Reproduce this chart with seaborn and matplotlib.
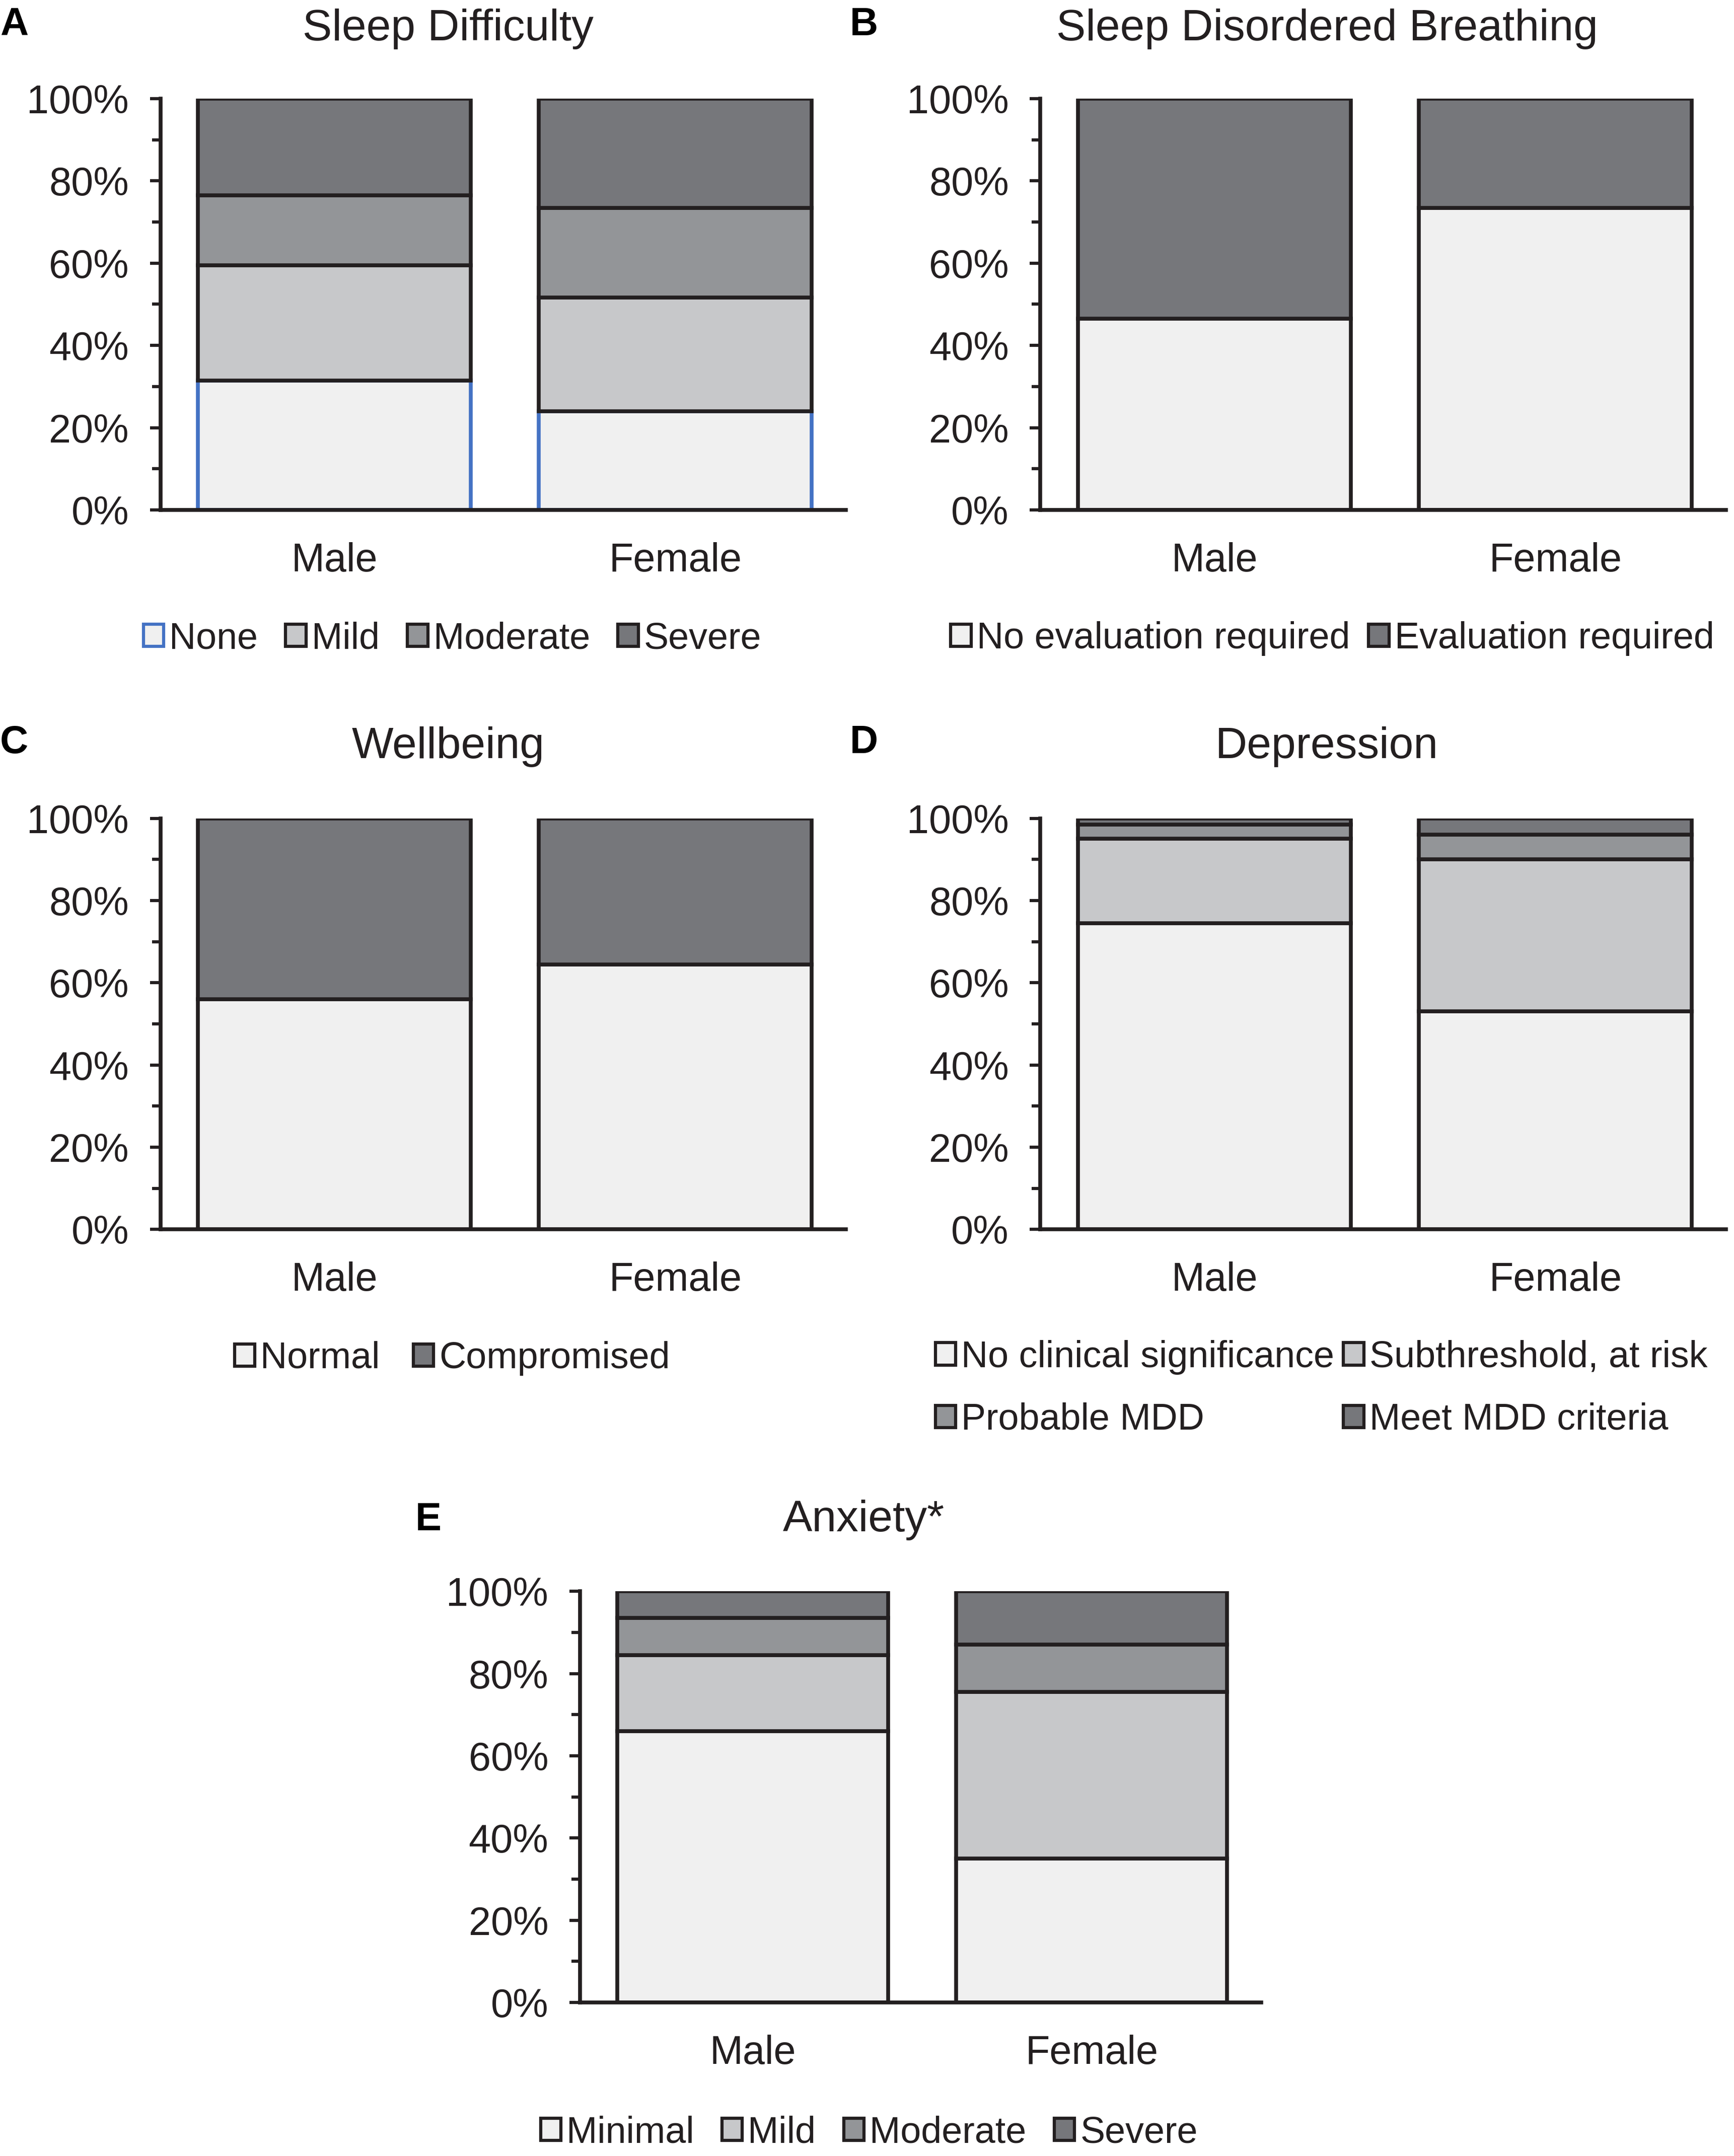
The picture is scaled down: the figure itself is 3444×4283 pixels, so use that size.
import numpy as np
import pandas as pd
import matplotlib
matplotlib.use('Agg')
import matplotlib.pyplot as plt
from matplotlib.patches import Patch
from matplotlib.ticker import MultipleLocator, PercentFormatter
import seaborn as sns

# 数据（从图上读出的百分比）
sex = ['Male', 'Female']

sleep_levels = ['None', 'Mild', 'Moderate', 'Severe']
sleep_male = [31.5, 28.0, 17.0, 23.5]
sleep_female = [24.0, 27.7, 21.8, 26.5]

sdb_levels = ['No evaluation required', 'Evaluation required']
sdb_male = [46.5, 53.5]
sdb_female = [73.5, 26.5]

well_levels = ['Normal', 'Compromised']
well_male = [56.0, 44.0]
well_female = [64.5, 35.5]

dep_levels = ['No clinical significance', 'Subthreshold, at risk', 'Probable MDD', 'Meet MDD criteria']
dep_male = [74.5, 20.5, 3.5, 1.5]
dep_female = [53.0, 37.0, 6.0, 4.0]

anx_levels = ['Minimal', 'Mild', 'Moderate', 'Severe']
anx_male = [66.0, 18.5, 9.0, 6.5]
anx_female = [35.0, 40.5, 11.5, 13.0]

# 颜色
c4 = ['#f0f0f0', '#c7c8ca', '#939598', '#76777b']
c2 = ['#f0f0f0', '#76777b']
ink = '#231f20'

sns.set_theme(style='white')
plt.rcParams['font.family'] = ['Liberation Sans', 'DejaVu Sans']
plt.rcParams['text.color'] = ink

W, H = 1265.0, 1573.0  # 以缩略图像素布局


def box(x0, x1, ytop, ybot):
    return [x0 / W, 1 - ybot / H, (x1 - x0) / W, (ybot - ytop) / H]


def stacked(ax, levels, male, female, colors, first_edge=ink):
    df = pd.DataFrame({'sex': np.repeat(sex, len(levels)),
                       'level': levels * 2,
                       'pct': male + female})
    bottom = np.zeros(2)
    for i, lev in enumerate(levels):
        sub = df[df['level'] == lev]
        vals = sub['pct'].to_numpy() / 100.0
        edge = first_edge if i == 0 else ink
        sns.barplot(x=sub['sex'], y=vals, bottom=bottom, color=colors[i],
                    saturation=1, edgecolor=edge, linewidth=5.5, width=0.8,
                    errorbar=None, ax=ax, order=sex)
        bottom = bottom + vals
    ax.set_xlim(-0.51, 1.5)
    ax.set_ylim(0, 1)
    ax.set_xlabel('')
    ax.set_ylabel('')
    ax.yaxis.set_major_locator(MultipleLocator(0.2))
    ax.yaxis.set_minor_locator(MultipleLocator(0.1))
    ax.yaxis.set_major_formatter(PercentFormatter(1.0, decimals=0))
    ax.tick_params(axis='y', which='major', direction='out', length=15, width=4.5,
                   color=ink, labelsize=57, labelcolor=ink, pad=30, left=True)
    ax.tick_params(axis='y', which='minor', direction='out', length=12, width=4.5,
                   color=ink, left=True)
    ax.tick_params(axis='x', length=0, labelsize=57, labelcolor=ink, pad=46)
    for s in ['top', 'right']:
        ax.spines[s].set_visible(False)
    for s in ['left', 'bottom']:
        ax.spines[s].set_color(ink)
        ax.spines[s].set_linewidth(5.5)


def legend(fig, levels, colors, x, y, ncol, first_edge=ink, order=None, colsp=0.9):
    handles = []
    for i, lev in enumerate(levels):
        edge = first_edge if i == 0 else ink
        handles.append(Patch(facecolor=colors[i], edgecolor=edge, linewidth=4.5, label=lev))
    if order is not None:
        handles = [handles[k] for k in order]
    fig.legend(handles=handles, loc='center', bbox_to_anchor=(x / W, 1 - y / H),
               ncol=ncol, frameon=False, fontsize=53, handlelength=0.55,
               handleheight=0.55, handletextpad=0.15, columnspacing=colsp,
               labelspacing=0.75, borderaxespad=0)


fig = plt.figure(figsize=(34.44, 42.83), dpi=100)

axA = fig.add_axes(box(117, 617, 72, 372))
stacked(axA, sleep_levels, sleep_male, sleep_female, c4, first_edge='#4472c4')
axB = fig.add_axes(box(759, 1259, 72, 372))
stacked(axB, sdb_levels, sdb_male, sdb_female, c2)
axC = fig.add_axes(box(117, 617, 597, 897))
stacked(axC, well_levels, well_male, well_female, c2)
axD = fig.add_axes(box(759, 1259, 597, 897))
stacked(axD, dep_levels, dep_male, dep_female, c4)
axE = fig.add_axes(box(423, 920, 1161, 1461))
stacked(axE, anx_levels, anx_male, anx_female, c4)

# 标题
titles = [('Sleep Difficulty', 327, 21), ('Sleep Disordered Breathing', 968, 21),
          ('Wellbeing', 327, 545), ('Depression', 968, 545), ('Anxiety*', 630, 1109)]
for t, x, y in titles:
    fig.text(x / W, 1 - y / H, t, ha='center', va='center', fontsize=63, color=ink)

letters = [('A', 0, 18), ('B', 620, 18), ('C', 0, 542), ('D', 620, 542), ('E', 303, 1109)]
for t, x, y in letters:
    fig.text(x / W, 1 - y / H, t, ha='left', va='center', fontsize=56,
             fontweight='bold', color='black')

# 图例
legend(fig, sleep_levels, c4, 330, 466, 4, first_edge='#4472c4', colsp=0.75)
legend(fig, sdb_levels, c2, 972, 466, 2, colsp=0.5)
legend(fig, well_levels, c2, 330, 991, 2, colsp=0.9)
legend(fig, dep_levels, c4, 964, 1013, 2, order=[0, 2, 1, 3], colsp=0.25)
legend(fig, anx_levels, c4, 634, 1556, 4, colsp=0.75)

fig.savefig('out.png', dpi=100, facecolor='white')
